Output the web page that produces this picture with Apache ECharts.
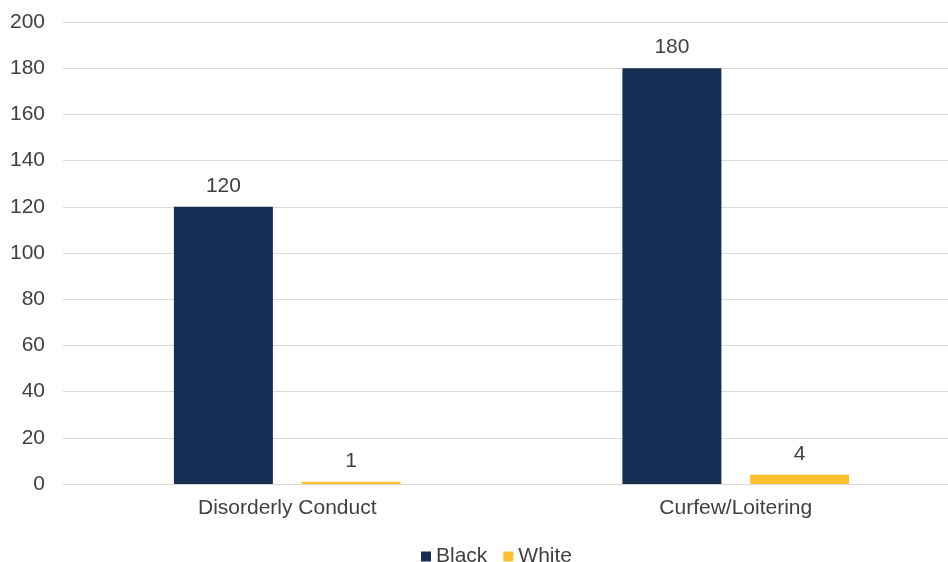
<!DOCTYPE html>
<html><head><meta charset="utf-8">
<script src="https://cdn.jsdelivr.net/npm/echarts@6/dist/echarts.min.js"></script>
<style>html,body{margin:0;padding:0;background:#fff}#c{width:948px;height:562px}</style>
</head><body><div id="c"></div>
<script>
const categories = ["Disorderly Conduct", "Curfew/Loitering"];
const blackValues = [120, 180];
const whiteValues = [1, 4];
const yTicks = [0, 20, 40, 60, 80, 100, 120, 140, 160, 180, 200];

const font = '"Liberation Sans", Arial, sans-serif';
const chart = echarts.init(document.getElementById('c'));
chart.setOption({
  animation: false,
  textStyle: { fontFamily: font },
  grid: { left: 63, top: 22, width: 897, height: 462, containLabel: false, outerBoundsMode: 'none' },
  legend: {
    top: 541, left: 416,
    itemWidth: 10, itemHeight: 10, itemGap: 16,
    icon: 'rect',
    textStyle: { fontSize: 21, color: '#404040', fontFamily: font, padding: [0, 0, 0, 0] },
    data: ['Black', 'White']
  },
  xAxis: {
    type: 'category', data: categories,
    axisLine: { show: true, lineStyle: { color: '#d9d9d9' } },
    axisTick: { show: false },
    axisLabel: { fontSize: 21, color: '#404040', margin: 14, fontFamily: font }
  },
  yAxis: {
    type: 'value', min: 0, max: 200, interval: 20,
    axisLine: { show: false }, axisTick: { show: false },
    splitLine: { lineStyle: { color: '#d9d9d9', width: 1 } },
    axisLabel: { fontSize: 21, color: '#404040', margin: 18, fontFamily: font,
      formatter: v => yTicks.includes(v) ? String(v) : '' }
  },
  series: [
    { name: 'Black', type: 'bar', data: blackValues, barWidth: 99, barGap: '29%',
      itemStyle: { color: '#172E54' },
      label: { show: true, position: 'top', distance: 10, fontSize: 21, color: '#404040', fontFamily: font } },
    { name: 'White', type: 'bar', data: whiteValues, barWidth: 99,
      itemStyle: { color: '#FFC02E' },
      label: { show: true, position: 'top', distance: 10, fontSize: 21, color: '#404040', fontFamily: font } }
  ]
});
</script></body></html>
